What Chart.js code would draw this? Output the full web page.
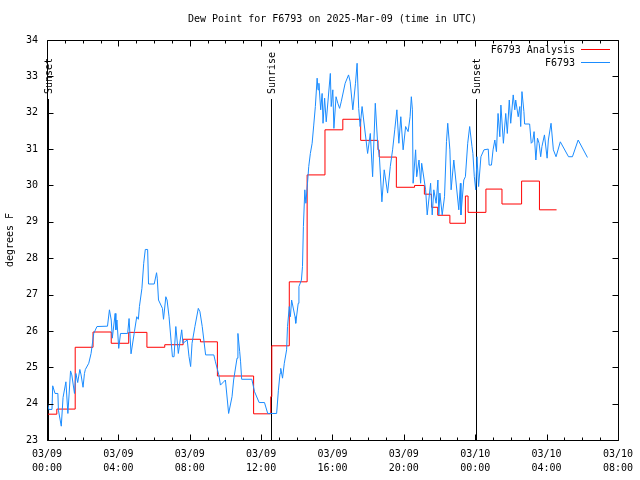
<!DOCTYPE html>
<html><head><meta charset="utf-8">
<script src="https://cdn.jsdelivr.net/npm/chart.js@4.4.1/dist/chart.umd.min.js"></script>
<style>html,body{margin:0;padding:0;background:#fff}canvas{display:block}</style>
</head><body>
<canvas id="c" width="640" height="480"></canvas>
<script>
const titleText = 'Dew Point for F6793 on 2025-Mar-09 (time in UTC)';
const yAxisLabel = 'degrees F';
const xTickDates = ['03/09','03/09','03/09','03/09','03/09','03/09','03/10','03/10','03/10'];
const xTickTimes = ['00:00','04:00','08:00','12:00','16:00','20:00','00:00','04:00','08:00'];
const seriesNames = ['F6793 Analysis', 'F6793'];
const eventTimes = [0.05, 12.54, 24.06];
const eventLabels = ['Sunset', 'Sunrise', 'Sunset'];

// hours since 03/09 00:00 UTC where each analysis level begins
const analysisT = [0, 0.55, 1.58, 2.58, 3.6, 4.58, 5.6, 6.6, 7.63, 8.6, 9.55, 11.58, 12.54, 12.6, 13.58, 14.58, 15.58, 16.58, 17.58, 18.55, 18.62, 19.58, 20.6, 21.15, 21.55, 21.9, 22.58, 23.45, 23.6, 24.6, 25.5, 26.6, 27.6, 28.56];
const analysisV = [23.71, 23.85, 25.55, 25.97, 25.66, 25.96, 25.55, 25.62, 25.77, 25.70, 24.76, 23.72, 24.19, 25.59, 27.35, 30.29, 31.53, 31.82, 31.24, 30.98, 30.78, 29.95, 30.0, 29.76, 29.4, 29.18, 28.96, 29.71, 29.26, 29.9, 29.49, 30.12, 29.33, 29.33];

const obsT = [0.02,0.1,0.28,0.32,0.45,0.61,0.64,0.8,0.9,1.06,1.17,1.32,1.39,1.54,1.62,1.72,1.84,1.91,2.02,2.1,2.15,2.34,2.47,2.62,2.8,3.39,3.5,3.6,3.66,3.82,3.86,3.92,4.02,4.12,4.52,4.6,4.71,4.9,5.03,5.12,5.18,5.32,5.42,5.51,5.64,5.69,6.01,6.14,6.18,6.25,6.47,6.53,6.66,6.73,6.84,7.03,7.12,7.22,7.36,7.55,7.62,7.86,7.96,8.05,8.13,8.29,8.48,8.57,8.7,8.89,9.35,9.44,9.63,9.72,10.0,10.18,10.37,10.46,10.65,10.7,10.8,10.85,10.91,11.48,11.63,11.89,12.19,12.37,12.87,12.97,13.06,13.1,13.2,13.3,13.43,13.48,13.58,13.64,13.71,13.9,13.94,14.08,14.12,14.26,14.32,14.37,14.45,14.51,14.6,14.67,14.76,14.86,14.95,15.04,15.14,15.19,15.24,15.34,15.42,15.47,15.56,15.65,15.88,15.93,16.02,16.08,16.2,16.3,16.4,16.49,16.71,16.9,16.99,17.14,17.29,17.38,17.47,17.55,17.66,17.97,18.12,18.25,18.4,18.53,18.63,18.77,18.9,19.09,19.24,19.37,19.49,19.61,19.72,19.83,19.96,20.1,20.24,20.35,20.42,20.48,20.52,20.66,20.72,20.85,20.94,21.0,21.22,21.31,21.5,21.59,21.68,21.81,21.91,21.96,22.02,22.15,22.28,22.39,22.46,22.58,22.65,22.8,23.08,23.17,23.2,23.36,23.45,23.58,23.69,23.82,23.87,23.95,24.03,24.1,24.19,24.32,24.49,24.73,24.78,24.91,25.0,25.1,25.19,25.28,25.38,25.44,25.58,25.71,25.8,25.91,25.99,26.13,26.22,26.27,26.41,26.5,26.55,26.62,26.73,26.77,27.05,27.14,27.22,27.3,27.4,27.49,27.58,27.67,27.74,27.88,28.03,28.1,28.25,28.38,28.53,28.77,29.23,29.45,29.77,30.29];
const obsV = [24.05,23.84,23.84,24.49,24.28,24.28,23.82,23.38,24.17,24.6,23.73,24.9,24.79,24.28,24.83,24.58,24.94,24.79,24.45,24.83,24.94,25.11,25.38,25.93,26.12,26.13,26.58,26.3,25.8,26.48,26.03,26.3,25.52,25.93,25.93,26.34,25.37,25.98,26.39,26.32,26.67,27.17,27.86,28.24,28.24,27.29,27.29,27.6,27.45,26.85,26.62,26.32,26.94,26.85,26.39,25.29,25.29,26.12,25.38,26.03,25.66,25.75,25.29,25.02,25.66,26.12,26.62,26.53,26.12,25.34,25.34,25.15,24.79,24.51,24.65,23.73,24.19,24.65,25.25,25.93,25.43,25.15,24.67,24.67,24.33,24.03,24.03,23.73,23.73,24.37,24.83,24.97,24.7,25.11,25.48,26.12,26.67,26.39,26.85,26.39,26.21,26.76,27.22,27.4,27.77,28.87,29.88,29.51,30.06,30.52,30.88,31.16,31.66,32.17,32.95,32.63,32.81,32.08,32.53,31.71,32.4,31.75,33.08,32.17,32.63,31.57,32.44,32.26,32.12,32.3,32.81,33.04,32.86,32.08,32.81,33.36,32.12,31.62,32.17,30.88,31.43,30.24,32.26,31.16,30.79,29.55,30.43,29.79,30.52,30.98,31.53,32.08,31.16,31.89,30.98,31.62,31.48,31.89,32.44,32.08,30.06,30.98,30.24,30.7,30.06,30.61,29.88,29.19,30.06,29.19,29.88,29.51,30.15,29.19,29.79,29.19,29.69,31.21,31.71,30.98,29.88,30.7,29.33,30.06,29.19,30.15,30.24,31.16,31.62,31.07,30.88,30.24,29.88,30.79,29.97,30.79,30.98,31.0,30.56,30.56,30.98,31.25,30.93,31.98,31.34,32.21,31.16,31.98,31.43,32.35,31.71,32.49,32.08,32.35,31.89,32.17,31.62,32.58,32.03,31.69,31.69,31.16,31.2,31.48,30.7,31.3,31.16,30.79,31.07,31.39,30.75,31.25,31.71,30.98,30.79,31.2,30.79,30.79,31.25,30.77];

const FONT = '"DejaVu Sans Mono", "Liberation Mono", monospace';
const RED = '#ff0000';
const BLUE = '#1a8cff';

const decor = {
  id: 'decor',
  beforeDraw(c) {
    const g = c.ctx;
    g.save(); g.fillStyle = '#fff'; g.fillRect(0, 0, c.width, c.height); g.restore();
  },
  beforeDatasetsDraw(c) {
    const g = c.ctx, a = c.chartArea, xs = c.scales.x;
    g.save();
    g.strokeStyle = '#000'; g.lineWidth = 1; g.fillStyle = '#000';
    g.font = '10px ' + FONT;
    eventTimes.forEach((t, i) => {
      const px = Math.round(xs.getPixelForValue(t)) + 0.5;
      g.beginPath(); g.moveTo(px, 99); g.lineTo(px, a.bottom); g.stroke();
      g.save();
      g.translate(px + 1, 94);
      g.rotate(-Math.PI / 2);
      g.textAlign = 'left'; g.textBaseline = 'middle';
      g.fillText(eventLabels[i], 0, 0);
      g.restore();
    });
    g.restore();
  },
  afterDraw(c) {
    const g = c.ctx, a = c.chartArea, xs = c.scales.x, ys = c.scales.y;
    g.save();
    // title centred over the plot area
    g.font = '10px ' + FONT; g.fillStyle = '#000';
    g.textAlign = 'center'; g.textBaseline = 'middle';
    g.fillText(titleText, (a.left + a.right) / 2, 19);
    g.strokeStyle = '#000'; g.lineWidth = 1;
    const L = Math.round(a.left) + 0.5, R = Math.round(a.right) + 0.5;
    const T = Math.round(a.top) + 0.5, B = Math.round(a.bottom) + 0.5;
    g.beginPath(); g.rect(L, T, R - L, B - T); g.stroke();
    g.beginPath();
    for (let h = 0; h <= 32; h++) {
      const px = Math.round(xs.getPixelForValue(h)) + 0.5;
      const len = (h % 4 === 0) ? 6 : 3;
      g.moveTo(px, B); g.lineTo(px, B - len);
      g.moveTo(px, T); g.lineTo(px, T + len);
    }
    for (let v = 23; v <= 34; v++) {
      const py = Math.round(ys.getPixelForValue(v)) + 0.5;
      g.moveTo(L, py); g.lineTo(L + 6, py);
      g.moveTo(R, py); g.lineTo(R - 6, py);
    }
    g.stroke();
    // legend
    g.textAlign = 'right'; g.textBaseline = 'middle';
    const cols = [RED, BLUE];
    seriesNames.forEach((n, i) => {
      const y = 50 + i * 13;
      g.fillStyle = '#000';
      g.fillText(n, 575, y);
      g.strokeStyle = cols[i];
      g.beginPath(); g.moveTo(581, y - 0.5); g.lineTo(610, y - 0.5); g.stroke();
    });
    g.restore();
  }
};

new Chart(document.getElementById('c').getContext('2d'), {
  type: 'line',
  data: {
    datasets: [
      { label: seriesNames[0], data: analysisT.map((t, i) => ({ x: t, y: analysisV[i] })),
        borderColor: RED, borderWidth: 1, pointRadius: 0, stepped: 'before', fill: false, order: 1 },
      { label: seriesNames[1], data: obsT.map((t, i) => ({ x: t, y: obsV[i] })),
        borderColor: BLUE, borderWidth: 1, pointRadius: 0, tension: 0, fill: false, order: 0 }
    ]
  },
  options: {
    responsive: false, animation: false, events: [],
    layout: { padding: { left: 0, right: 18, top: 40, bottom: 0 } },
    plugins: {
      legend: { display: false }, tooltip: { enabled: false }, title: { display: false }
    },
    scales: {
      x: {
        type: 'linear', min: 0, max: 32,
        afterFit: s => { s.height = 40; },
        afterBuildTicks: s => { s.ticks = xTickTimes.map((_, i) => ({ value: i * 4 })); },
        ticks: { autoSkip: false, maxRotation: 0, color: '#000', padding: 7,
          font: { family: FONT, size: 10, lineHeight: 1.4 },
          callback: v => { const i = Math.round(v / 4); return [xTickDates[i], xTickTimes[i]]; } },
        grid: { display: false, drawTicks: false }, border: { display: false }
      },
      y: {
        min: 23, max: 34,
        afterFit: s => { s.width = 47; },
        ticks: { stepSize: 1, color: '#000', padding: 9, font: { family: FONT, size: 10 } },
        grid: { display: false, drawTicks: false }, border: { display: false },
        title: { display: true, text: yAxisLabel, color: '#000', padding: { top: 4, bottom: 0 },
          font: { family: FONT, size: 10, lineHeight: 1.2 } }
      }
    }
  },
  plugins: [decor]
});
</script>
</body></html>
